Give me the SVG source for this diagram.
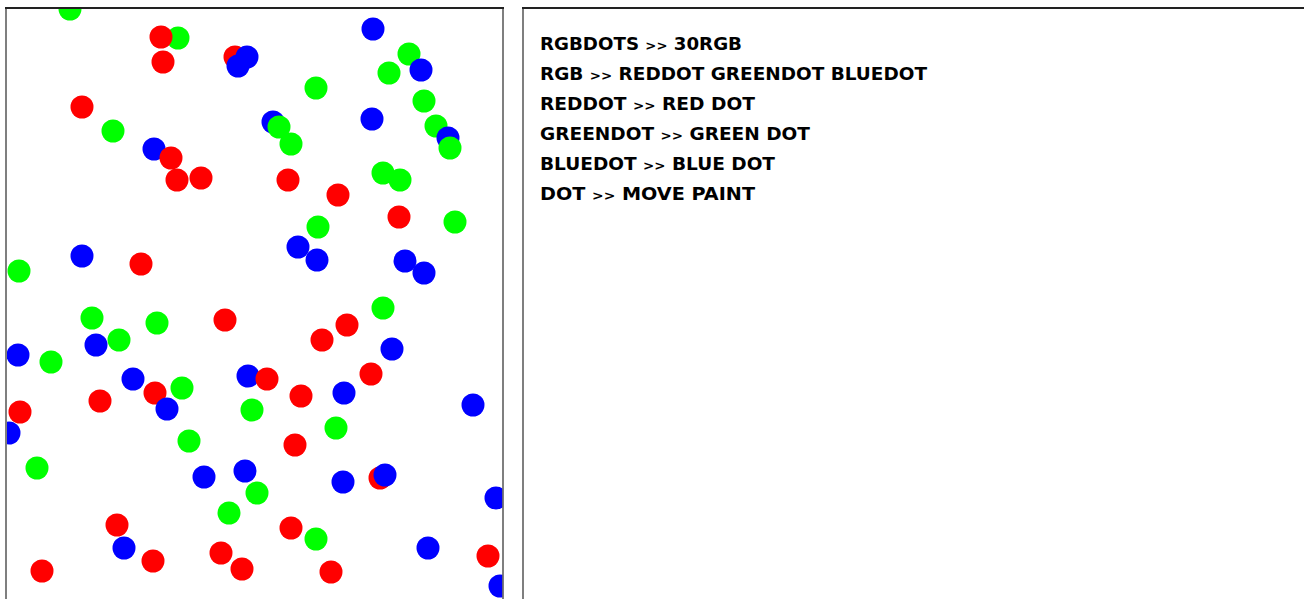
<svg xmlns="http://www.w3.org/2000/svg" width="1304" height="599" viewBox="0 0 1304 599">
<style>
.r{fill:#ff0000}.g{fill:#00ff00}.b{fill:#0000ff}
.frame{fill:none;stroke:#555;stroke-width:1.5}
.top{fill:none;stroke:#222;stroke-width:2}
.code{font-family:"DejaVu Sans",sans-serif;font-weight:bold;font-size:18px;fill:#000}
.op{font-size:13px}
</style>
<defs>
<clipPath id="canvasClip"><rect x="7" y="9" width="495.5" height="591"/></clipPath>
</defs>
<rect width="1304" height="599" fill="#fff"/>
<g id="canvas" clip-path="url(#canvasClip)">
<g id="under">
<circle class="b" cx="248" cy="376" r="11.5"/>
<circle class="b" cx="154" cy="149" r="11.5"/>
<circle class="g" cx="178" cy="38" r="11.5"/>
</g>
<g id="reds">
<circle class="r" cx="161" cy="37" r="11.5"/>
<circle class="r" cx="163" cy="62" r="11.5"/>
<circle class="r" cx="235" cy="57" r="11.5"/>
<circle class="r" cx="82" cy="107" r="11.5"/>
<circle class="r" cx="171" cy="158" r="11.5"/>
<circle class="r" cx="177" cy="180" r="11.5"/>
<circle class="r" cx="201" cy="178" r="11.5"/>
<circle class="r" cx="141" cy="264" r="11.5"/>
<circle class="r" cx="288" cy="180" r="11.5"/>
<circle class="r" cx="338" cy="195" r="11.5"/>
<circle class="r" cx="399" cy="217" r="11.5"/>
<circle class="r" cx="225" cy="320" r="11.5"/>
<circle class="r" cx="155" cy="393" r="11.5"/>
<circle class="r" cx="100" cy="401" r="11.5"/>
<circle class="r" cx="267" cy="379" r="11.5"/>
<circle class="r" cx="20" cy="412" r="11.5"/>
<circle class="r" cx="117" cy="525" r="11.5"/>
<circle class="r" cx="153" cy="561" r="11.5"/>
<circle class="r" cx="221" cy="553" r="11.5"/>
<circle class="r" cx="242" cy="569" r="11.5"/>
<circle class="r" cx="42" cy="571" r="11.5"/>
<circle class="r" cx="347" cy="325" r="11.5"/>
<circle class="r" cx="322" cy="340" r="11.5"/>
<circle class="r" cx="371" cy="374" r="11.5"/>
<circle class="r" cx="301" cy="396" r="11.5"/>
<circle class="r" cx="295" cy="445" r="11.5"/>
<circle class="r" cx="380" cy="478" r="11.5"/>
<circle class="r" cx="291" cy="528" r="11.5"/>
<circle class="r" cx="488" cy="556" r="11.5"/>
<circle class="r" cx="331" cy="572" r="11.5"/>
</g>
<g id="greens-under">
<circle class="g" cx="409" cy="54" r="11.5"/>
<circle class="g" cx="436" cy="126" r="11.5"/>
</g>
<g id="blues">
<circle class="b" cx="247" cy="57" r="11.5"/>
<circle class="b" cx="238" cy="66" r="11.5"/>
<circle class="b" cx="82" cy="256" r="11.5"/>
<circle class="b" cx="373" cy="29" r="11.5"/>
<circle class="b" cx="421" cy="70" r="11.5"/>
<circle class="b" cx="372" cy="119" r="11.5"/>
<circle class="b" cx="273" cy="122" r="11.5"/>
<circle class="b" cx="448" cy="138" r="11.5"/>
<circle class="b" cx="298" cy="247" r="11.5"/>
<circle class="b" cx="317" cy="260" r="11.5"/>
<circle class="b" cx="405" cy="261" r="11.5"/>
<circle class="b" cx="424" cy="273" r="11.5"/>
<circle class="b" cx="96" cy="345" r="11.5"/>
<circle class="b" cx="18" cy="355" r="11.5"/>
<circle class="b" cx="133" cy="379" r="11.5"/>
<circle class="b" cx="167" cy="409" r="11.5"/>
<circle class="b" cx="9" cy="433" r="11.5"/>
<circle class="b" cx="204" cy="477" r="11.5"/>
<circle class="b" cx="245" cy="471" r="11.5"/>
<circle class="b" cx="124" cy="548" r="11.5"/>
<circle class="b" cx="392" cy="349" r="11.5"/>
<circle class="b" cx="344" cy="393" r="11.5"/>
<circle class="b" cx="473" cy="405" r="11.5"/>
<circle class="b" cx="385" cy="475" r="11.5"/>
<circle class="b" cx="343" cy="482" r="11.5"/>
<circle class="b" cx="496" cy="498" r="11.5"/>
<circle class="b" cx="428" cy="548" r="11.5"/>
<circle class="b" cx="500" cy="586" r="11.5"/>
</g>
<g id="greens">
<circle class="g" cx="70" cy="9" r="11.5"/>
<circle class="g" cx="113" cy="131" r="11.5"/>
<circle class="g" cx="19" cy="271" r="11.5"/>
<circle class="g" cx="389" cy="73" r="11.5"/>
<circle class="g" cx="316" cy="88" r="11.5"/>
<circle class="g" cx="279" cy="127" r="11.5"/>
<circle class="g" cx="291" cy="144" r="11.5"/>
<circle class="g" cx="424" cy="101" r="11.5"/>
<circle class="g" cx="450" cy="148" r="11.5"/>
<circle class="g" cx="383" cy="173" r="11.5"/>
<circle class="g" cx="400" cy="180" r="11.5"/>
<circle class="g" cx="455" cy="222" r="11.5"/>
<circle class="g" cx="318" cy="227" r="11.5"/>
<circle class="g" cx="383" cy="308" r="11.5"/>
<circle class="g" cx="92" cy="318" r="11.5"/>
<circle class="g" cx="157" cy="323" r="11.5"/>
<circle class="g" cx="119" cy="340" r="11.5"/>
<circle class="g" cx="51" cy="362" r="11.5"/>
<circle class="g" cx="182" cy="388" r="11.5"/>
<circle class="g" cx="252" cy="410" r="11.5"/>
<circle class="g" cx="189" cy="441" r="11.5"/>
<circle class="g" cx="37" cy="468" r="11.5"/>
<circle class="g" cx="257" cy="493" r="11.5"/>
<circle class="g" cx="229" cy="513" r="11.5"/>
<circle class="g" cx="336" cy="428" r="11.5"/>
<circle class="g" cx="316" cy="539" r="11.5"/>
</g>
</g>
<g id="canvas-frame">
<path class="frame" d="M6,8 V600 M503,8 V600"/>
<path class="top" d="M5,8 H504"/>
</g>
<g id="code-panel">
<path class="frame" d="M523,8 V600"/>
<path class="top" d="M522,8 H1304"/>
<text class="code" x="540" y="49.5" textLength="202" lengthAdjust="spacingAndGlyphs">RGBDOTS <tspan class="op">&gt;&gt;</tspan> 30RGB</text>
<text class="code" x="540" y="79.5" textLength="387" lengthAdjust="spacingAndGlyphs">RGB <tspan class="op">&gt;&gt;</tspan> REDDOT GREENDOT BLUEDOT</text>
<text class="code" x="540" y="109.5" textLength="215" lengthAdjust="spacingAndGlyphs">REDDOT <tspan class="op">&gt;&gt;</tspan> RED DOT</text>
<text class="code" x="540" y="139.5" textLength="270" lengthAdjust="spacingAndGlyphs">GREENDOT <tspan class="op">&gt;&gt;</tspan> GREEN DOT</text>
<text class="code" x="540" y="169.5" textLength="235" lengthAdjust="spacingAndGlyphs">BLUEDOT <tspan class="op">&gt;&gt;</tspan> BLUE DOT</text>
<text class="code" x="540" y="200" textLength="215" lengthAdjust="spacingAndGlyphs">DOT <tspan class="op">&gt;&gt;</tspan> MOVE PAINT</text>
</g>
</svg>
